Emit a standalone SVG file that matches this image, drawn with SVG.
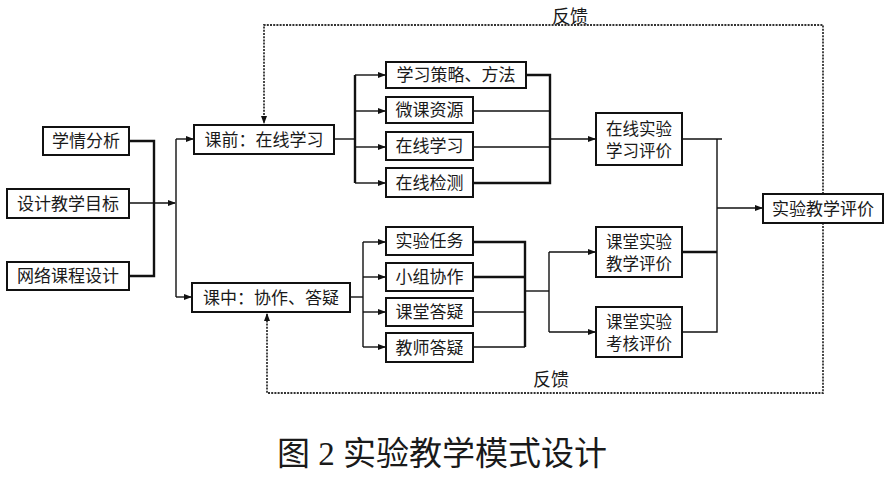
<svg xmlns="http://www.w3.org/2000/svg" width="894" height="481" viewBox="0 0 894 481">
<style>
.box{fill:#fff;stroke:#111;stroke-width:2}
.t{font-family:"Noto Sans CJK SC","Noto Sans",sans-serif;font-size:17px;fill:#1a1a1a;text-anchor:middle}
.t2{font-family:"Noto Sans CJK SC","Noto Sans",sans-serif;font-size:16.5px;fill:#1a1a1a;text-anchor:middle}
.lbl{font-family:"Noto Sans CJK SC","Noto Sans",sans-serif;font-size:18px;fill:#1a1a1a}
.cap{font-family:"Liberation Serif","Noto Sans CJK SC",serif;font-size:33px;fill:#1a1a1a}
.c{fill:none;stroke:#111;stroke-width:1.4}
.k{fill:none;stroke:#111;stroke-width:2.4}
.d{fill:none;stroke:#333;stroke-width:1.8;stroke-dasharray:2 1.2}
</style>
<defs>
<marker id="ar" markerWidth="8" markerHeight="6" refX="7" refY="3" orient="auto" markerUnits="userSpaceOnUse">
<path d="M0,0 L8,3 L0,6 Z" fill="#111"/>
</marker>
</defs>
<g id="connectors">
<path class="d" d="M823,210 V25 H264 V123" marker-end="url(#ar)"/>
<path class="d" d="M823,210 V393 H267 V314" marker-end="url(#ar)"/>
<path class="k" d="M129,141 H154 V276 H129"/>
<path class="c" d="M129,203 H175" marker-end="url(#ar)"/>
<path class="c" d="M176,139 V297"/>
<path class="c" d="M176,139 H193" marker-end="url(#ar)"/>
<path class="c" d="M176,297 H191" marker-end="url(#ar)"/>
<path class="c" d="M334,139 H355"/>
<path class="k" d="M355,75 V183"/>
<path class="c" d="M355,75 H385" marker-end="url(#ar)"/>
<path class="c" d="M355,111 H385" marker-end="url(#ar)"/>
<path class="c" d="M355,147 H385" marker-end="url(#ar)"/>
<path class="c" d="M355,183 H385" marker-end="url(#ar)"/>
<path class="k" d="M526,75 H550 V183 H473"/>
<path class="c" d="M473,111 H550"/>
<path class="c" d="M473,147 H550"/>
<path class="c" d="M550,139 H595" marker-end="url(#ar)"/>
<path class="c" d="M350,297 H363"/>
<path class="c" d="M363,242 V347"/>
<path class="c" d="M363,242 H385" marker-end="url(#ar)"/>
<path class="c" d="M363,277 H385" marker-end="url(#ar)"/>
<path class="c" d="M363,312 H385" marker-end="url(#ar)"/>
<path class="c" d="M363,347 H385" marker-end="url(#ar)"/>
<path class="k" d="M473,242 H525 V347"/>
<path class="k" d="M473,277 H525"/>
<path class="c" d="M473,312 H525"/>
<path class="c" d="M473,347 H525"/>
<path class="c" d="M525,291 H549"/>
<path class="c" d="M549,252 V332"/>
<path class="c" d="M549,252 H595" marker-end="url(#ar)"/>
<path class="c" d="M549,332 H595" marker-end="url(#ar)"/>
<path class="c" d="M682,139 H722"/>
<path class="k" d="M682,252 H717"/>
<path class="c" d="M682,332 H717 V139"/>
<path class="c" d="M717,208 H762" marker-end="url(#ar)"/>
</g>
<g id="n1"><rect class="box" x="43" y="127" width="86" height="28"/><text class="t" x="86" y="147">学情分析</text></g>
<g id="n2"><rect class="box" x="7" y="189" width="122" height="29"/><text class="t" x="68" y="209.5">设计教学目标</text></g>
<g id="n3"><rect class="box" x="7" y="262" width="122" height="28"/><text class="t" x="68" y="282">网络课程设计</text></g>
<g id="pre"><rect class="box" x="194" y="125" width="140" height="29"/><text class="t" x="264" y="145.5">课前：在线学习</text></g>
<g id="mid"><rect class="box" x="192" y="283" width="158" height="29"/><text class="t" x="271" y="303.5">课中：协作、答疑</text></g>
<g id="a1"><rect class="box" x="386" y="62" width="140" height="26"/><text class="t" x="456" y="81">学习策略、方法</text></g>
<g id="a2"><rect class="box" x="386" y="97" width="87" height="26"/><text class="t" x="429.5" y="116">微课资源</text></g>
<g id="a3"><rect class="box" x="386" y="132" width="87" height="28"/><text class="t" x="429.5" y="152">在线学习</text></g>
<g id="a4"><rect class="box" x="386" y="168" width="87" height="29"/><text class="t" x="429.5" y="188.5">在线检测</text></g>
<g id="b1"><rect class="box" x="386" y="227" width="87" height="28"/><text class="t" x="429.5" y="247">实验任务</text></g>
<g id="b2"><rect class="box" x="386" y="263" width="87" height="28"/><text class="t" x="429.5" y="283">小组协作</text></g>
<g id="b3"><rect class="box" x="386" y="298" width="87" height="28"/><text class="t" x="429.5" y="318">课堂答疑</text></g>
<g id="b4"><rect class="box" x="386" y="333" width="87" height="29"/><text class="t" x="429.5" y="353.5">教师答疑</text></g>
<g id="e1"><rect class="box" x="596" y="113" width="86" height="52"/><text class="t2" x="639" y="134.5">在线实验</text><text class="t2" x="639" y="157">学习评价</text></g>
<g id="e2"><rect class="box" x="596" y="227" width="86" height="50"/><text class="t2" x="639" y="247.5">课堂实验</text><text class="t2" x="639" y="270">教学评价</text></g>
<g id="e3"><rect class="box" x="596" y="307" width="86" height="50"/><text class="t2" x="639" y="327.5">课堂实验</text><text class="t2" x="639" y="350">考核评价</text></g>
<g id="final"><rect class="box" x="763" y="194" width="120" height="29"/><text class="t" x="823" y="214.5">实验教学评价</text></g>
<text class="lbl" x="552" y="23">反馈</text>
<text class="lbl" x="533" y="386">反馈</text>
<text class="cap" x="277" y="465">图 2 实验教学模式设计</text>
</svg>
